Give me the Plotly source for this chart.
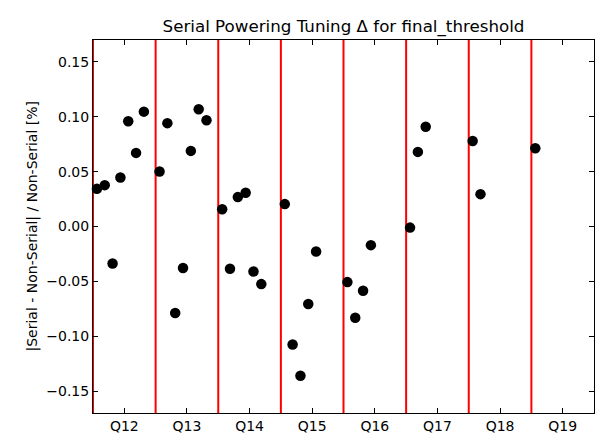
import plotly.graph_objects as go

# Data
categories = ["Q12", "Q13", "Q14", "Q15", "Q16", "Q17", "Q18", "Q19"]
tick_positions = [12, 13, 14, 15, 16, 17, 18, 19]
boundaries = [11.5, 12.5, 13.5, 14.5, 15.5, 16.5, 17.5, 18.5]

x_vals = [11.5625, 11.6875, 11.8125, 11.9375, 12.0625, 12.1875, 12.3125,
          12.5625, 12.6875, 12.8125, 12.9375, 13.0625, 13.1875, 13.3125,
          13.5625, 13.6875, 13.8125, 13.9375, 14.0625, 14.1875,
          14.5625, 14.6875, 14.8125, 14.9375, 15.0625,
          15.5625, 15.6875, 15.8125, 15.9375,
          16.5625, 16.6875, 16.8125,
          17.5625, 17.6875,
          18.5625]
y_vals = [0.0343, 0.0377, -0.0337, 0.0446, 0.0960, 0.0671, 0.1047,
          0.0501, 0.0942, -0.0789, -0.0379, 0.0689, 0.1069, 0.0969,
          0.0158, -0.0385, 0.0268, 0.0307, -0.0410, -0.0525,
          0.0204, -0.1075, -0.1360, -0.0707, -0.0228,
          -0.0507, -0.0832, -0.0586, -0.0170,
          -0.0010, 0.0680, 0.0910,
          0.0780, 0.0295,
          0.0714]
y_ticks = [-0.15, -0.10, -0.05, 0.00, 0.05, 0.10, 0.15]

FONT = "DejaVu Sans"
W, H = 599, 433
L, R, T, B = 93, 5, 40, 20

fig = go.Figure()

for b in boundaries:
    fig.add_shape(type="line", xref="x", yref="paper", x0=b, x1=b, y0=0, y1=1,
                  line=dict(color="#ff0000", width=2), layer="below")

fig.add_trace(go.Scatter(
    x=x_vals, y=y_vals, mode="markers",
    marker=dict(color="black", size=10.5, line=dict(width=0)),
    showlegend=False, cliponaxis=False,
))

axis_common = dict(
    showgrid=False, zeroline=False, showline=True, linecolor="black",
    linewidth=1, mirror="allticks", ticks="inside", ticklen=5,
    tickwidth=1, tickcolor="black", automargin=False,
    tickfont=dict(family=FONT, size=14, color="black"),
)

plot_w = W - L - R
fig.add_annotation(
    text="|Serial - Non-Serial| / Non-Serial [%]",
    xref="paper", yref="paper", x=(32 - L) / plot_w, y=0.5,
    xanchor="center", yanchor="middle", textangle=-90, showarrow=False,
    font=dict(family=FONT, size=14, color="black"),
)

fig.update_layout(
    width=W, height=H,
    margin=dict(l=L, r=R, t=T, b=B),
    paper_bgcolor="white", plot_bgcolor="white",
    font=dict(family=FONT, color="black"),
    title=dict(text="Serial Powering Tuning Δ for final_threshold",
               x=(L + W - R) / 2 / W, xanchor="center",
               y=1 - 26 / H, yanchor="middle",
               font=dict(family=FONT, size=16.7, color="black")),
    xaxis=dict(range=[11.5, 19.5], tickvals=tick_positions,
               ticktext=categories, **axis_common),
    yaxis=dict(range=[-0.17, 0.17], tickvals=y_ticks, tickformat=".2f",
               **axis_common),
)

fig.write_html("out.html")
